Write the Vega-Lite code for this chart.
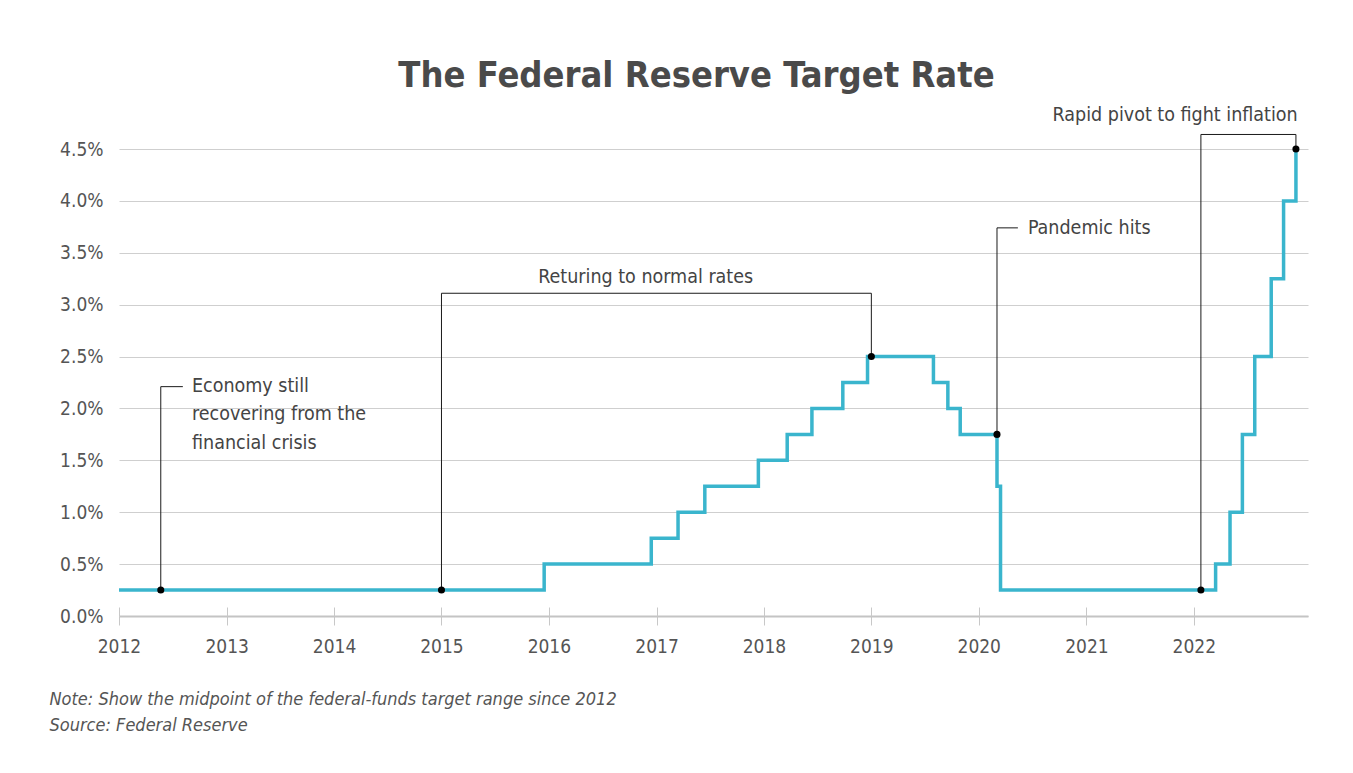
{
  "$schema": "https://vega.github.io/schema/vega-lite/v6.json",
  "width": 1189,
  "height": 467,
  "autosize": {"type": "none"},
  "padding": {"left": 119, "top": 149, "right": 45, "bottom": 157},
  "background": "white",
  "title": {
    "text": "The Federal Reserve Target Rate",
    "font": "DejaVu Sans Condensed, sans-serif",
    "fontSize": 36,
    "fontWeight": "bold",
    "color": "#4a4a4a",
    "anchor": "middle",
    "frame": "group",
    "dx": -17,
    "offset": 10
  },
  "config": {
    "font": "DejaVu Sans Condensed, sans-serif",
    "view": {"stroke": null}
  },
  "resolve": {"axis": {"x": "independent"}},
  "datasets": {
    "rate": [
      {"date": "2012-01-01", "value": 0.25},
      {"date": "2015-12-16", "value": 0.5},
      {"date": "2016-12-14", "value": 0.75},
      {"date": "2017-03-15", "value": 1.0},
      {"date": "2017-06-14", "value": 1.25},
      {"date": "2017-12-13", "value": 1.5},
      {"date": "2018-03-21", "value": 1.75},
      {"date": "2018-06-13", "value": 2.0},
      {"date": "2018-09-26", "value": 2.25},
      {"date": "2018-12-19", "value": 2.5},
      {"date": "2019-07-31", "value": 2.25},
      {"date": "2019-09-18", "value": 2.0},
      {"date": "2019-10-30", "value": 1.75},
      {"date": "2020-03-03", "value": 1.25},
      {"date": "2020-03-15", "value": 0.25},
      {"date": "2022-03-16", "value": 0.5},
      {"date": "2022-05-04", "value": 1.0},
      {"date": "2022-06-15", "value": 1.75},
      {"date": "2022-07-27", "value": 2.5},
      {"date": "2022-09-21", "value": 3.25},
      {"date": "2022-11-02", "value": 4.0},
      {"date": "2022-12-14", "value": 4.5}
    ],
    "connectors": [
      {"id": "a1", "ord": 1, "date": "2012-05-22", "value": 0.25},
      {"id": "a1", "ord": 2, "date": "2012-05-22", "value": 2.21},
      {"id": "a1", "ord": 3, "date": "2012-08-05", "value": 2.21},
      {"id": "a2", "ord": 1, "date": "2015-01-01", "value": 0.25},
      {"id": "a2", "ord": 2, "date": "2015-01-01", "value": 3.11},
      {"id": "a2", "ord": 3, "date": "2019-01-01", "value": 3.11},
      {"id": "a2", "ord": 4, "date": "2019-01-01", "value": 2.5},
      {"id": "a3", "ord": 1, "date": "2020-03-03", "value": 1.75},
      {"id": "a3", "ord": 2, "date": "2020-03-03", "value": 3.74},
      {"id": "a3", "ord": 3, "date": "2020-05-13", "value": 3.74},
      {"id": "a4", "ord": 1, "date": "2022-01-25", "value": 0.25},
      {"id": "a4", "ord": 2, "date": "2022-01-25", "value": 4.64},
      {"id": "a4", "ord": 3, "date": "2022-12-14", "value": 4.64},
      {"id": "a4", "ord": 4, "date": "2022-12-14", "value": 4.5}
    ],
    "dots": [
      {"date": "2012-05-22", "value": 0.25},
      {"date": "2015-01-01", "value": 0.25},
      {"date": "2019-01-01", "value": 2.5},
      {"date": "2020-03-03", "value": 1.75},
      {"date": "2022-01-25", "value": 0.25},
      {"date": "2022-12-14", "value": 4.5}
    ],
    "labels": [
      {"date": "2012-09-05", "value": 2.22, "label": "Economy still\nrecovering from the\nfinancial crisis", "align": "left"},
      {"date": "2016-11-25", "value": 3.266, "label": "Returing to normal rates", "align": "center"},
      {"date": "2020-06-16", "value": 3.74, "label": "Pandemic hits", "align": "left"},
      {"date": "2022-12-20", "value": 4.827, "label": "Rapid pivot to fight inflation", "align": "right"}
    ]
  },
  "layer": [
    {
      "data": {"name": "rate"},
      "mark": {"type": "line", "interpolate": "step-after", "color": "#3ab5cd", "strokeWidth": 3.5, "clip": false},
      "encoding": {
        "x": {
          "field": "date", "type": "temporal",
          "scale": {"domain": ["2012-01-01", "2023-01-24"]},
          "axis": {
            "format": "%Y",
            "values": [{"year": 2012}, {"year": 2013}, {"year": 2014}, {"year": 2015}, {"year": 2016}, {"year": 2017}, {"year": 2018}, {"year": 2019}, {"year": 2020}, {"year": 2021}, {"year": 2022}],
            "grid": false,
            "domainColor": "#c4c4c4",
            "domainWidth": 2,
            "tickColor": "#c8c8c8",
            "tickSize": 9,
            "tickWidth": 1,
            "labelFontSize": 19,
            "labelColor": "#555555",
            "labelPadding": 12,
            "labelFlush": false,
            "title": ["Note: Show the midpoint of the federal-funds target range since 2012", "Source: Federal Reserve"],
            "titleFontSize": 18,
            "titleFontStyle": "italic",
            "titleFontWeight": "normal",
            "titleColor": "#555555",
            "titleAnchor": "start",
            "titleAlign": "left",
            "titleBaseline": "alphabetic",
            "titleX": -70,
            "titleY": 88,
            "titleLineHeight": 26
          }
        },
        "y": {
          "field": "value", "type": "quantitative",
          "scale": {"domain": [0, 4.5], "nice": false},
          "axis": {
            "values": [0, 0.5, 1, 1.5, 2, 2.5, 3, 3.5, 4, 4.5],
            "labelExpr": "format(datum.value, '.1f') + '%'",
            "domain": false,
            "ticks": false,
            "gridColor": "#cfcfcf",
            "gridWidth": 1,
            "labelFontSize": 19,
            "labelColor": "#555555",
            "labelPadding": 16,
            "title": null
          }
        }
      }
    },
    {
      "data": {"name": "connectors"},
      "mark": {"type": "line", "color": "#1a1a1a", "strokeWidth": 1, "clip": false},
      "encoding": {
        "x": {"field": "date", "type": "temporal", "axis": null},
        "y": {"field": "value", "type": "quantitative"},
        "detail": {"field": "id"},
        "order": {"field": "ord"}
      }
    },
    {
      "data": {"name": "dots"},
      "mark": {"type": "circle", "color": "black", "size": 50, "opacity": 1, "clip": false},
      "encoding": {
        "x": {
          "field": "date", "type": "temporal",
          "axis": {
            "orient": "bottom",
            "offset": 0,
            "values": [{"year": 2012}, {"year": 2013}, {"year": 2014}, {"year": 2015}, {"year": 2016}, {"year": 2017}, {"year": 2018}, {"year": 2019}, {"year": 2020}, {"year": 2021}, {"year": 2022}],
            "domain": false,
            "labels": false,
            "grid": false,
            "tickColor": "#c8c8c8",
            "tickSize": -9,
            "tickWidth": 1,
            "title": null
          }
        },
        "y": {"field": "value", "type": "quantitative"}
      }
    },
    {
      "data": {"name": "labels"},
      "transform": [{"filter": "datum.align == 'left'"}],
      "mark": {"type": "text", "align": "left", "fontSize": 19.5, "color": "#444444", "baseline": "middle", "lineBreak": "\n", "lineHeight": 28.5, "clip": false},
      "encoding": {
        "x": {"field": "date", "type": "temporal", "axis": null},
        "y": {"field": "value", "type": "quantitative"},
        "text": {"field": "label"}
      }
    },
    {
      "data": {"name": "labels"},
      "transform": [{"filter": "datum.align == 'center'"}],
      "mark": {"type": "text", "align": "center", "fontSize": 19.5, "color": "#444444", "baseline": "middle", "clip": false},
      "encoding": {
        "x": {"field": "date", "type": "temporal", "axis": null},
        "y": {"field": "value", "type": "quantitative"},
        "text": {"field": "label"}
      }
    },
    {
      "data": {"name": "labels"},
      "transform": [{"filter": "datum.align == 'right'"}],
      "mark": {"type": "text", "align": "right", "fontSize": 19.5, "color": "#444444", "baseline": "middle", "clip": false},
      "encoding": {
        "x": {"field": "date", "type": "temporal", "axis": null},
        "y": {"field": "value", "type": "quantitative"},
        "text": {"field": "label"}
      }
    }
  ]
}
